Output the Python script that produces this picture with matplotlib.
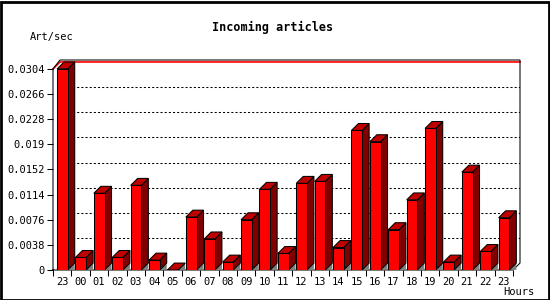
import matplotlib
matplotlib.use("Agg")
import matplotlib.pyplot as plt
from matplotlib.patches import Polygon, Rectangle

# hourly incoming article rate
hours = ["23", "00", "01", "02", "03", "04", "05", "06", "07", "08", "09", "10", "11",
         "12", "13", "14", "15", "16", "17", "18", "19", "20", "21", "22", "23"]
rates = [0.0304, 0.0019, 0.0116, 0.0019, 0.0128, 0.0015, 0.0, 0.0080, 0.0047, 0.0012,
         0.0076, 0.0122, 0.0025, 0.0131, 0.0134, 0.0034, 0.0211, 0.0194, 0.0061, 0.0106,
         0.0214, 0.0012, 0.0148, 0.0028, 0.0079]
ytick_vals = [0, 0.0038, 0.0076, 0.0114, 0.0152, 0.019, 0.0228, 0.0266, 0.0304]
ytick_labels = ["0", "0.0038", "0.0076", "0.0114", "0.0152", "0.019", "0.0228", "0.0266", "0.0304"]

W, H = 550, 300
fig = plt.figure(figsize=(W / 100, H / 100), dpi=100)
fig.patch.set_facecolor("white")

# plot box in pixels (front face left/bottom, back wall right/top)
px_left, px_right, px_bottom, px_top = 53, 520, 270, 60
ax = fig.add_axes([px_left / W, 1 - px_bottom / H,
                   (px_right - px_left) / W, (px_bottom - px_top) / H])

n = len(rates)
vmax = max(ytick_vals)
px_per_unit = 203 / vmax
px_per_slot = 18.4
dx = 7 / px_per_slot
dy = 7 / px_per_unit
xmax = n + dx
ytop = vmax + dy + 2 / px_per_unit
ax.set_xlim(0, xmax)
ax.set_ylim(0, ytop)
for s in ax.spines.values():
    s.set_visible(False)

mono = "DejaVu Sans Mono"
lw = 0.75

# back wall grid lines
for v in ytick_vals[1:-1]:
    ax.plot([dx, xmax], [v + dy, v + dy], color="black", lw=lw, ls=(0, (2, 2)), zorder=1)

# max line
ax.plot([0, dx, xmax], [vmax, vmax + dy, vmax + dy], color="red", lw=1.2, zorder=1,
        clip_on=False)

# frame
ax.plot([0, 0, dx, xmax, xmax, n, 0], [0, vmax, ytop, ytop, dy, 0, 0],
        color="black", lw=lw, zorder=2, clip_on=False, solid_joinstyle="miter")

off, bw = 0.22, 0.58
for i, v in enumerate(rates):
    x0 = i + off
    x1 = x0 + bw
    # floor shadow
    ax.add_patch(Polygon([(x1, 0), (x1 + dx, dy), (x1 + dx, 0)], closed=True,
                         facecolor="#808080", edgecolor="none", zorder=3))
    ax.add_patch(Polygon([(x1, 0), (x1 + dx, dy), (x1 + dx, v + dy), (x1, v)], closed=True,
                         facecolor="#800000", edgecolor="black", lw=lw, zorder=4))
    ax.add_patch(Polygon([(x0, v), (x0 + dx, v + dy), (x1 + dx, v + dy), (x1, v)], closed=True,
                         facecolor="#c00000", edgecolor="black", lw=lw, zorder=4))
    ax.add_patch(Rectangle((x0, 0), bw, v, facecolor="#ff0000", edgecolor="black",
                           lw=lw, zorder=5))

ax.set_yticks(ytick_vals)
ax.set_yticklabels(ytick_labels, fontfamily=mono, fontsize=7.5)
ax.tick_params(axis="y", length=4, width=lw, pad=2, color="black")

ax.set_xticks(range(n + 1))
ax.set_xticklabels([])
ax.tick_params(axis="x", which="major", length=4, width=lw, color="black")
ax.set_xticks([i + 0.5 for i in range(n)], minor=True)
ax.set_xticklabels(hours, minor=True, fontfamily=mono, fontsize=7.5)
ax.tick_params(axis="x", which="minor", length=0, pad=5)

fig.text(273 / W, 1 - 27 / H, "Incoming articles", ha="center", va="center",
         fontfamily=mono, fontweight="bold", fontsize=8.5)
fig.text(30 / W, 1 - 37 / H, "Art/sec", ha="left", va="center", fontfamily=mono, fontsize=7.5)
fig.text(534 / W, 1 - 292 / H, "Hours", ha="right", va="center", fontfamily=mono, fontsize=7.5)

# image border
fig.add_artist(Rectangle((0.5 / W, 0.5 / H), (W - 2) / W, (H - 2) / H,
                         transform=fig.transFigure, fill=False, edgecolor="black", lw=2))

fig.savefig("out.png", dpi=100, facecolor="white")
